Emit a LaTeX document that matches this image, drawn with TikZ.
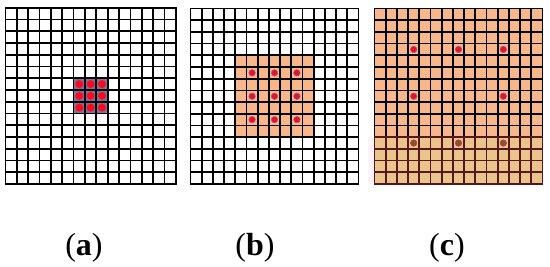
\documentclass[tikz,border=0pt]{standalone}
\usepackage{fontspec}
\setmainfont{Liberation Serif}
\usetikzlibrary{positioning}
\definecolor{peach}{RGB}{247,183,138}
\definecolor{tint}{RGB}{233,197,140}
\definecolor{maroon}{RGB}{88,22,30}
\definecolor{haze}{RGB}{132,110,156}
\definecolor{rim}{RGB}{130,100,160}
\definecolor{blush}{RGB}{253,243,250}
\definecolor{dotred}{RGB}{250,10,30}
\definecolor{dotbrown}{RGB}{145,80,22}

\begin{document}
\begin{tikzpicture}[
  x=1pt, y=1pt,
  gridline/.style={line width=1.7pt, line cap=rect, black},
  hit/.style={circle, fill=dotred, draw=rim, line width=0.6pt, inner sep=0pt, minimum size=6.5pt},
  bighit/.style={hit, draw=none, minimum size=8pt},
  faded/.style={hit, fill=dotbrown, draw=rim!70!red},
  sublbl/.style={font=\fontsize{32}{36}\selectfont, inner sep=0pt, anchor=base}
]
  \useasboundingbox (0,0) rectangle (550,267);

  % grid corners
  \coordinate (ga) at (5.5,83);
  \coordinate (gb) at (190.5,83);
  \coordinate (gc) at (374.5,83);

  % (a) plain 3x3
  \begin{scope}[shift={(ga)}, x=11.35pt, y=11.75pt]
    \fill[haze] (6,6) rectangle (9,9);
    \foreach \k in {0,...,15} {
      \draw[gridline] (\k,0) -- (\k,15);
      \draw[gridline] (0,\k) -- (15,\k);
    }
    \foreach \i in {6,7,8}
      \foreach \j in {6,7,8}
        \node[bighit] (a-\i-\j) at (\i+0.5,14.5-\j) {};
  \end{scope}

  % (b) dilation 2
  \begin{scope}[shift={(gb)}, x=11.2pt, y=11.7pt]
    \fill[peach] (4,4) rectangle (11,11);
    \foreach \k in {0,...,15} {
      \draw[gridline] (\k,0) -- (\k,15);
      \draw[gridline] (0,\k) -- (15,\k);
    }
    \foreach \i in {5,7,9}
      \foreach \j in {5,7,9}
        \node[hit] (b-\i-\j) at (\i+0.5,14.5-\j) {};
  \end{scope}

  % (c) dilation 4
  \begin{scope}[shift={(gc)}, x=11.2pt, y=11.7pt]
    \fill[blush] (-0.6,0) rectangle (0,4);
    \fill[peach] (0,0) rectangle (15,15);
    \fill[tint] (0,0) rectangle (15,4);
    \foreach \k in {0,...,15} {
      \draw[gridline] (\k,4) -- (\k,15);
      \draw[gridline] (0,\k) -- (15,\k);
      \draw[gridline, maroon] (\k,0) -- (\k,4);
    }
    \foreach \k in {0,...,4}
      \draw[gridline, maroon] (0,\k) -- (15,\k);
    \foreach \i/\j in {3/3,7/3,11/3,3/7,11/7}
      \node[hit] (c-\i-\j) at (\i+0.5,14.5-\j) {};
    \foreach \i in {3,7,11}
      \node[faded] (c-\i-11) at (\i+0.5,3.5) {};
  \end{scope}

  \node[sublbl] (capa) at (84,11) {(\textbf{a})};
  \node[sublbl] (capb) at (255,11) {(\textbf{b})};
  \node[sublbl] (capc) at (447,11) {(\textbf{c})};
\end{tikzpicture}
\end{document}
